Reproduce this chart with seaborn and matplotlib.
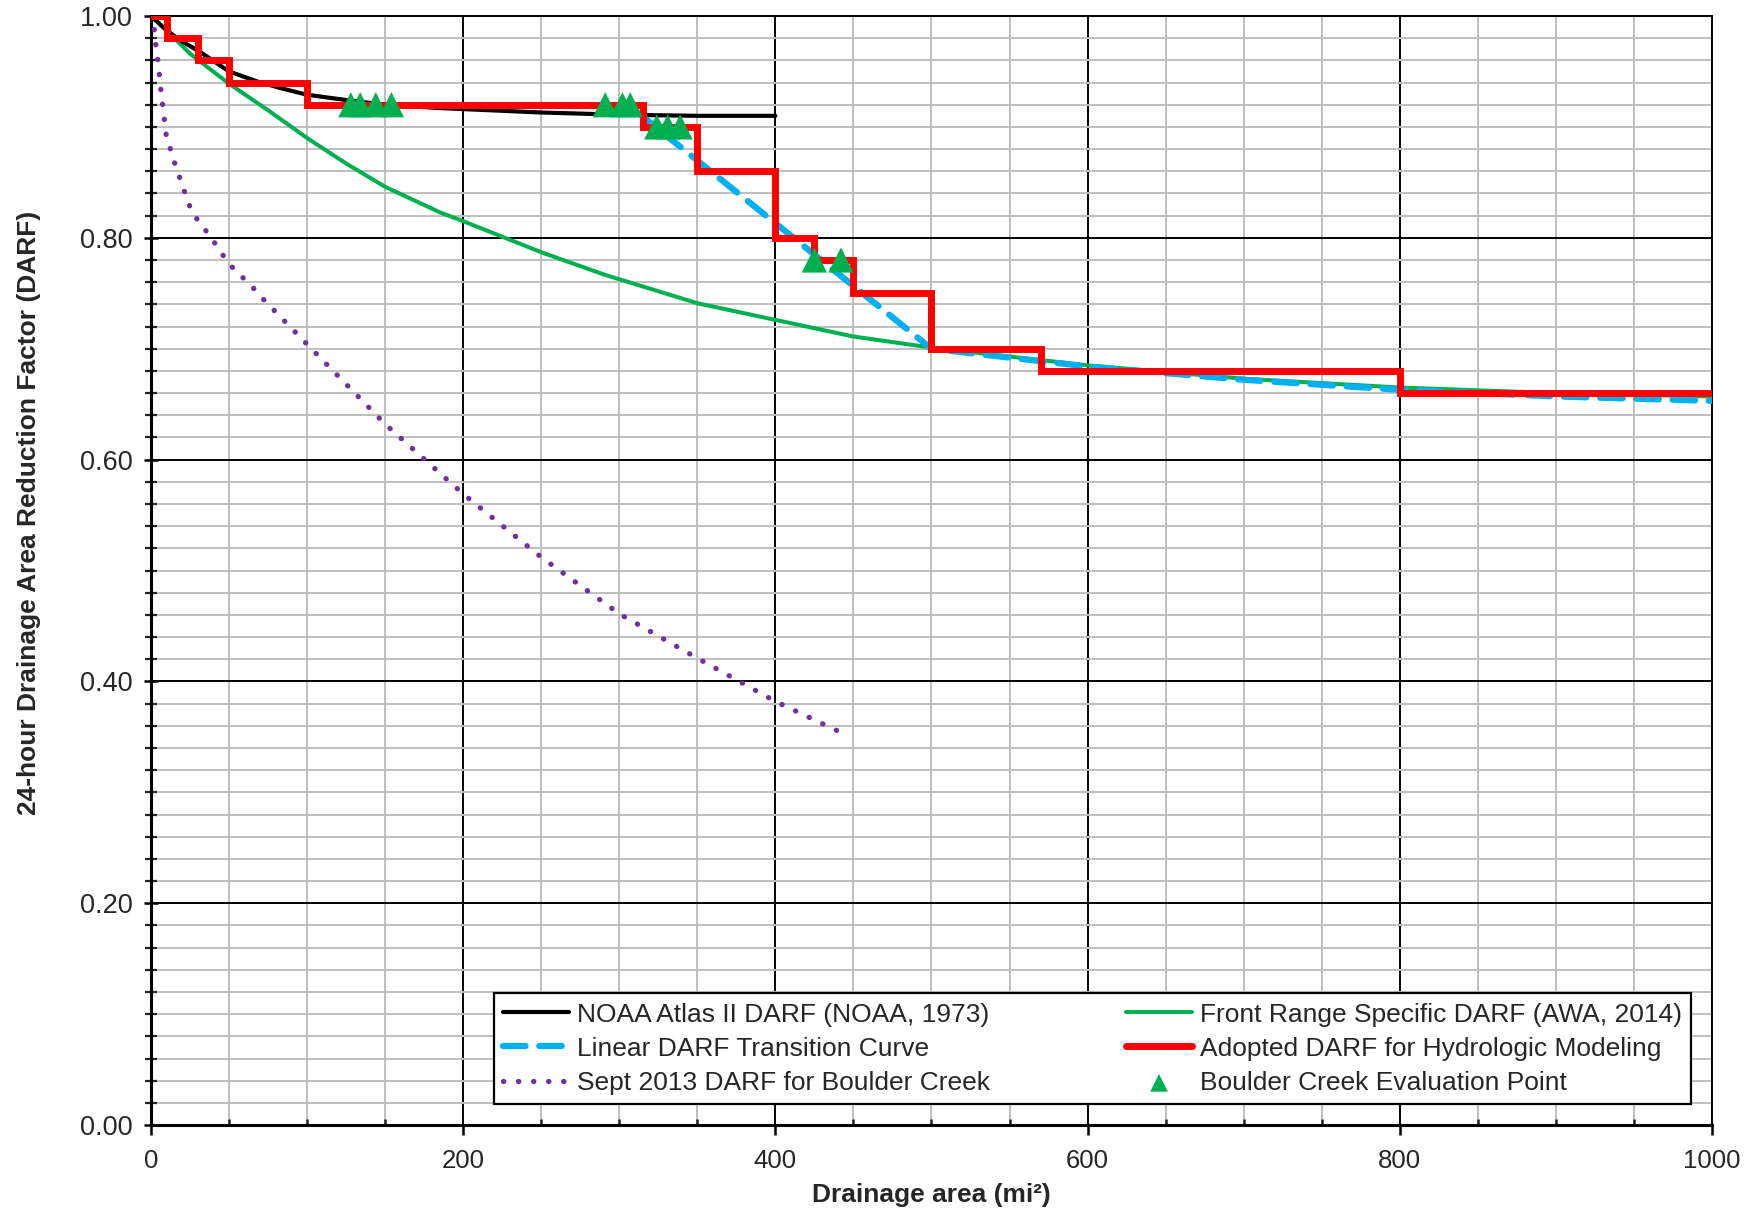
import numpy as np
import matplotlib
matplotlib.use("Agg")
import matplotlib.pyplot as plt
import seaborn as sns
from matplotlib.ticker import MultipleLocator, FormatStrFormatter

# NOAA Atlas II DARF
noaa_x = [0, 10, 20, 31, 50, 68, 83, 100, 121, 150, 185, 250, 300, 350, 400]
noaa_y = [1.0, 0.987, 0.977, 0.968, 0.950, 0.941, 0.935, 0.929, 0.925, 0.920, 0.917,
          0.913, 0.911, 0.910, 0.910]

# Front Range specific DARF (AWA 2014)
front_x = [0, 10, 25, 50, 75, 100, 125, 150, 185, 200, 250, 290, 350, 400, 450, 500,
           600, 700, 800, 900, 1000]
front_y = [1.0, 0.987, 0.966, 0.939, 0.915, 0.890, 0.867, 0.846, 0.823, 0.815, 0.787,
           0.767, 0.741, 0.726, 0.711, 0.701, 0.685, 0.673, 0.665, 0.660, 0.657]

# Linear transition curve
linear_x = [310, 500, 550, 600, 650, 700, 800, 900, 1000]
linear_y = [0.915, 0.700, 0.692, 0.684, 0.678, 0.672, 0.663, 0.657, 0.653]

# Adopted DARF (step)
adopted_x = [0, 10, 30, 50, 100, 315, 350, 400, 425, 450, 500, 570, 800, 1000]
adopted_y = [1.00, 0.98, 0.96, 0.94, 0.92, 0.90, 0.86, 0.80, 0.78, 0.75, 0.70, 0.68, 0.66, 0.66]

# Sept 2013 DARF for Boulder Creek
sept_x = [0, 1.5, 2.6, 3.6, 4.7, 6.2, 7.9, 9.8, 12, 14.3, 16.7, 19.2, 21.6, 24, 27.4, 32,
          36.5, 41, 45.3, 49.8, 55, 60.5, 66, 71, 100, 150, 200, 250, 300, 350, 400, 445]
sept_y = [1.0, 0.999, 0.979, 0.968, 0.957, 0.935, 0.914, 0.892, 0.882, 0.871, 0.861, 0.851,
          0.841, 0.831, 0.821, 0.812, 0.804, 0.795, 0.786, 0.777, 0.769, 0.762, 0.754, 0.746,
          0.704, 0.632, 0.569, 0.512, 0.461, 0.421, 0.382, 0.352]

# Boulder Creek evaluation points
eval_x = [128, 134, 144, 154, 291, 302, 307, 324, 331, 339, 425, 442]
eval_y = [0.92, 0.92, 0.92, 0.92, 0.92, 0.92, 0.92, 0.90, 0.90, 0.90, 0.78, 0.78]

sns.set_style("white")
plt.rcParams['font.family'] = ['Liberation Sans', 'DejaVu Sans']

fig = plt.figure(figsize=(17.58, 12.13), dpi=100)
ax = fig.add_axes([0.0859, 0.0725, 0.8879, 0.9143])

sns.lineplot(x=front_x, y=front_y, ax=ax, color="#00b050", linewidth=2.9, sort=False,
             estimator=None, zorder=3, label="Front Range Specific DARF (AWA, 2014)")
sns.lineplot(x=noaa_x, y=noaa_y, ax=ax, color="black", linewidth=3.0, sort=False,
             estimator=None, zorder=4, label="NOAA Atlas II DARF (NOAA, 1973)")
sns.lineplot(x=sept_x, y=sept_y, ax=ax, color="#7030a0", linewidth=3.8, sort=False,
             estimator=None, zorder=4, linestyle=(0, (0.05, 2.8)), dash_capstyle="round",
             label="Sept 2013 DARF for Boulder Creek")
sns.lineplot(x=linear_x, y=linear_y, ax=ax, color="#00b0f0", linewidth=4.5, sort=False,
             estimator=None, zorder=5, linestyle=(0, (3.6, 2.2)), dash_capstyle="round",
             label="Linear DARF Transition Curve")
sns.lineplot(x=adopted_x, y=adopted_y, ax=ax, color="red", linewidth=5.0, sort=False,
             estimator=None, zorder=6, drawstyle="steps-post", solid_joinstyle="miter",
             label="Adopted DARF for Hydrologic Modeling")
sns.scatterplot(x=eval_x, y=eval_y, ax=ax, color="#00b050", marker="^", s=330,
                edgecolor="none", zorder=7, label="Boulder Creek Evaluation Point")

ax.set_xlim(0, 1000)
ax.set_ylim(0, 1.0)
ax.xaxis.set_major_locator(MultipleLocator(200))
ax.xaxis.set_minor_locator(MultipleLocator(50))
ax.yaxis.set_major_locator(MultipleLocator(0.2))
ax.yaxis.set_minor_locator(MultipleLocator(0.02))
ax.yaxis.set_major_formatter(FormatStrFormatter("%.2f"))

ax.grid(which="minor", color="#bfbfbf", linewidth=1.4, zorder=0)
ax.grid(which="major", color="black", linewidth=1.4, zorder=1)
ax.set_axisbelow(True)

for s in ax.spines.values():
    s.set_color("black")
    s.set_linewidth(1.4)
ax.spines["left"].set_linewidth(2.2)
ax.spines["bottom"].set_linewidth(2.2)

ax.tick_params(which="major", labelsize=18.5, color="black", left=True, bottom=True)
ax.tick_params(axis="y", which="major", direction="inout", length=10, width=1.8, pad=8,
               labelsize=19.5)
ax.tick_params(axis="y", which="minor", direction="inout", length=9, width=1.6, left=True)
ax.tick_params(axis="x", which="major", direction="out", length=7, width=1.8, pad=10)
ax.tick_params(axis="x", which="minor", direction="in", length=4, width=1.8, bottom=True)

ax.set_xlabel("Drainage area (mi²)", fontsize=19, fontweight="bold")
ax.set_ylabel("24-hour Drainage Area Reduction Factor (DARF)", fontsize=19,
              fontweight="bold")
ax.xaxis.set_label_coords(0.5, -0.052)
ax.yaxis.set_label_coords(-0.0705, 0.552)

handles, labels = ax.get_legend_handles_labels()
order = ["NOAA Atlas II DARF (NOAA, 1973)", "Linear DARF Transition Curve",
         "Sept 2013 DARF for Boulder Creek", "Front Range Specific DARF (AWA, 2014)",
         "Adopted DARF for Hydrologic Modeling", "Boulder Creek Evaluation Point"]
hmap = dict(zip(labels, handles))
leg = ax.legend([hmap[l] for l in order], order, ncol=2, loc="lower left",
                bbox_to_anchor=(0.2197, 0.019, 0.767, 0.0955), mode="expand",
                borderaxespad=0, fontsize=19, frameon=True, fancybox=False,
                edgecolor="black", framealpha=1, handlelength=2.5, handletextpad=0.3,
                labelspacing=0.38, borderpad=0.35, markerscale=0.7)
leg.get_frame().set_linewidth(1.6)
leg.set_zorder(10)

fig.savefig("out.png", dpi=100)
